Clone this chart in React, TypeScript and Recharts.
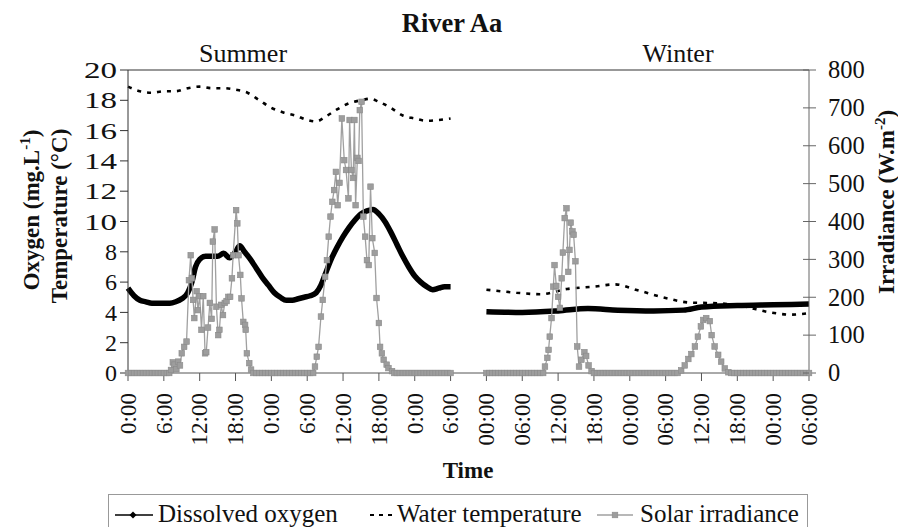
import React from 'react';
import { ComposedChart, Line, XAxis, YAxis, ReferenceLine } from 'recharts';

// [hour since start of season, value]
const summerOxygen: [number, number][] = [
  [0, 5.6], [1, 5.1], [2, 4.8], [3, 4.7], [4, 4.6], [5, 4.6], [6, 4.6], [7, 4.6], [8, 4.7],
  [9, 4.9], [10, 5.3], [10.7, 6.0], [11.3, 7.0], [12, 7.5], [13, 7.7], [14, 7.7], [15, 7.7],
  [16, 7.9], [17, 7.6], [18, 8.0], [18.7, 8.4], [19.5, 8.0], [20.5, 7.5], [21.5, 6.9],
  [22.5, 6.3], [23.5, 5.8], [24.5, 5.3], [25.5, 5.0], [26.5, 4.8], [27.5, 4.8], [28.5, 4.9],
  [29.5, 5.0], [30.5, 5.1], [31.5, 5.3], [32.3, 5.8], [33, 6.5], [34, 7.5], [35, 8.3], [36, 9.0],
  [37, 9.6], [38, 10.1], [39, 10.5], [40, 10.7], [41, 10.8], [42, 10.5], [43, 10.0], [44, 9.3],
  [45, 8.5], [46, 7.7], [47, 7.0], [48, 6.4], [49, 6.0], [50, 5.7], [51, 5.5], [52, 5.6],
  [53, 5.7], [54, 5.7],
];

const winterOxygen: [number, number][] = [
  [0, 4.05], [6, 4.0], [12, 4.1], [17, 4.25], [22, 4.15], [28, 4.1], [33, 4.15], [36, 4.35],
  [42, 4.45], [48, 4.5], [54, 4.55],
];

const summerTemperature: [number, number][] = [
  [0, 18.9], [2, 18.6], [4, 18.5], [6, 18.6], [8, 18.6], [10, 18.8], [12, 18.9], [14, 18.8],
  [16, 18.8], [18, 18.7], [20, 18.5], [22, 18.0], [24, 17.5], [26, 17.2], [28, 17.0], [30, 16.7],
  [31.5, 16.6], [33, 16.9], [35, 17.4], [37, 17.8], [39, 18.0], [40.5, 18.1], [42, 17.9],
  [44, 17.5], [46, 17.0], [48, 16.8], [50, 16.65], [52, 16.7], [54, 16.8],
];

const winterTemperature: [number, number][] = [
  [0, 5.5], [5, 5.3], [9, 5.2], [13.5, 5.55], [18, 5.7], [21.5, 5.85], [25, 5.5], [30, 4.95],
  [34, 4.65], [39, 4.6], [43, 4.4], [47.5, 4.0], [51, 3.85], [54, 3.95],
];

// W.m-2
const summerIrradiance: [number, number][] = [
  [0, 0], [0.5, 0], [1, 0], [1.5, 0], [2, 0], [2.5, 0], [3, 0], [3.5, 0], [4, 0], [4.5, 0],
  [5, 0], [5.5, 0], [6, 0], [6.5, 0],
  [6.9, 0], [7.2, 8], [7.5, 28], [7.8, 22], [8.1, 10], [8.4, 30], [8.7, 20], [9.0, 52],
  [9.4, 69], [9.8, 83], [10.2, 245], [10.5, 311], [10.7, 250], [10.9, 193], [11.1, 145],
  [11.5, 216], [11.7, 166], [12.0, 203], [12.3, 114], [12.6, 203], [12.9, 52], [13.1, 55],
  [13.4, 120], [13.7, 185], [14.0, 143], [14.2, 347], [14.5, 379], [14.8, 175], [15.1, 100],
  [15.3, 114], [15.6, 180], [15.9, 153], [16.2, 185], [16.5, 190], [16.8, 201], [17.1, 201],
  [17.4, 250], [17.6, 311], [18.1, 430], [18.3, 395], [18.5, 311], [18.8, 259], [19.0, 197],
  [19.3, 135], [19.6, 127], [19.7, 114], [19.9, 52], [20.3, 26], [20.6, 9], [21.0, 0],
  [21.5, 0], [22, 0], [22.5, 0], [23, 0], [23.5, 0], [24, 0], [24.5, 0], [25, 0], [25.5, 0],
  [26, 0], [26.5, 0], [27, 0], [27.5, 0], [28, 0], [28.5, 0], [29, 0], [29.5, 0], [30, 0],
  [30.5, 0],
  [31.0, 0], [31.3, 17], [31.6, 43], [31.9, 69], [32.3, 149], [32.6, 193], [33.0, 254],
  [33.3, 298], [33.6, 360], [33.9, 413], [34.2, 452], [34.5, 483], [34.8, 531], [35.1, 443],
  [35.4, 502], [35.8, 672], [36.2, 562], [36.5, 536], [36.9, 461], [37.1, 668], [37.4, 536],
  [37.7, 515], [37.9, 668], [38.1, 443], [38.4, 568], [38.6, 560], [38.8, 694], [39.1, 716],
  [39.4, 413], [39.7, 360], [40.0, 298], [40.3, 285], [40.6, 492], [40.9, 356], [41.3, 317],
  [41.6, 198], [42.0, 132], [42.2, 69], [42.5, 52], [42.8, 35], [43.3, 22], [43.6, 13],
  [44.2, 5], [44.6, 0],
  [45, 0], [45.5, 0], [46, 0], [46.5, 0], [47, 0], [47.5, 0], [48, 0], [48.5, 0], [49, 0],
  [49.5, 0], [50, 0], [50.5, 0], [51, 0], [51.5, 0], [52, 0], [52.5, 0], [53, 0], [53.5, 0],
  [54, 0],
];

const winterIrradiance: [number, number][] = [
  [0, 0], [0.5, 0], [1, 0], [1.5, 0], [2, 0], [2.5, 0], [3, 0], [3.5, 0], [4, 0], [4.5, 0],
  [5, 0], [5.5, 0], [6, 0], [6.5, 0], [7, 0], [7.5, 0], [8, 0], [8.5, 0], [9, 0], [9.5, 0],
  [9.8, 17], [10.2, 40], [10.4, 61], [10.6, 96], [10.9, 145], [11.2, 228], [11.4, 285],
  [11.7, 230], [12.0, 201], [12.3, 172], [12.6, 250], [12.8, 318], [13.1, 409], [13.4, 435],
  [13.7, 267], [13.9, 325], [14.1, 397], [14.4, 374], [14.6, 365], [14.9, 295], [15.2, 70],
  [15.5, 17], [15.9, 35], [16.4, 55], [16.7, 45], [17.1, 20], [17.6, 5], [18.0, 0],
  [18.5, 0], [19, 0], [19.5, 0], [20, 0], [20.5, 0], [21, 0], [21.5, 0], [22, 0], [22.5, 0],
  [23, 0], [23.5, 0], [24, 0], [24.5, 0], [25, 0], [25.5, 0], [26, 0], [26.5, 0], [27, 0],
  [27.5, 0], [28, 0], [28.5, 0], [29, 0], [29.5, 0], [30, 0], [30.5, 0], [31, 0], [31.5, 0],
  [32, 0],
  [32.6, 7], [33.2, 20], [33.8, 37], [34.3, 50], [34.9, 70], [35.4, 96], [35.9, 123],
  [36.3, 140], [36.8, 145], [37.4, 137], [37.7, 100], [38.2, 70], [38.8, 48], [39.3, 30],
  [39.9, 12], [40.5, 2], [41, 0],
  [41.5, 0], [42, 0], [42.5, 0], [43, 0], [43.5, 0], [44, 0], [44.5, 0], [45, 0], [45.5, 0],
  [46, 0], [46.5, 0], [47, 0], [47.5, 0], [48, 0], [48.5, 0], [49, 0], [49.5, 0], [50, 0],
  [50.5, 0], [51, 0], [51.5, 0], [52, 0], [52.5, 0], [53, 0], [53.5, 0], [54, 0],
];

const summerTickLabels = ['0:00', '6:00', '12:00', '18:00', '0:00', '6:00', '12:00', '18:00', '0:00', '6:00'];
const winterTickLabels = ['00:00', '06:00', '12:00', '18:00', '00:00', '06:00', '12:00', '18:00', '00:00', '06:00'];
const oxygenTicks = [0, 2, 4, 6, 8, 10, 12, 14, 16, 18, 20];
const irradianceTicks = [0, 100, 200, 300, 400, 500, 600, 700, 800];

const TICK_STEP = 6; // hours between ticks
const WINTER_OFFSET = summerTickLabels.length * TICK_STEP;
const timeLabels = [...summerTickLabels, ...winterTickLabels];
const timeTicks = timeLabels.map((_, i) => i * TICK_STEP);

const SERIF = "'Liberation Serif', 'DejaVu Serif', serif";
const serif = { fontFamily: SERIF };

const toRows = (pairs: [number, number][], offset = 0) =>
  pairs.map(([h, v]) => ({ h: h + offset, v }));

const TimeTick = (props: any) => {
  const { x, y, payload } = props;
  const label = timeLabels[Math.round(payload.value / TICK_STEP)];
  return (
    <text
      x={x}
      y={y}
      transform={`rotate(-90 ${x} ${y})`}
      textAnchor='end'
      dy='0.34em'
      fontSize={23}
      style={serif}
      fill='#111'
    >
      {label}
    </text>
  );
};

// the source draws the two-digit left labels noticeably wider
const LeftTick = (props: any) => {
  const { x, y, payload } = props;
  const label = String(payload.value);
  const wide = label.length > 1;
  return (
    <text
      x={x}
      y={y}
      dy='0.34em'
      textAnchor='end'
      fontSize={24}
      style={serif}
      fill='#111'
      textLength={wide ? 33 : undefined}
      lengthAdjust={wide ? 'spacingAndGlyphs' : undefined}
    >
      {label}
    </text>
  );
};

const RightTick = (props: any) => {
  const { x, y, payload } = props;
  const axisX = x - 19;
  return (
    <g>
      <line x1={axisX - 6} x2={axisX} y1={y} y2={y} stroke='#666' strokeWidth={1} />
      <text x={x} y={y} dy='0.34em' textAnchor='start' fontSize={24.5} style={serif} fill='#111'>
        {payload.value}
      </text>
    </g>
  );
};

const SquareDot = (p: any) => {
  if (p.cx == null || p.cy == null) return <g key={`sq-${p.index}`} />;
  return (
    <rect
      key={`sq-${p.index}`}
      x={p.cx - 2.8}
      y={p.cy - 2.8}
      width={5.6}
      height={5.6}
      fill='#9d9d9d'
      stroke='#8a8a8a'
      strokeWidth={0.6}
    />
  );
};

export default function App() {
  const series = [
    { key: 'do-s', rows: toRows(summerOxygen), kind: 'oxygen' },
    { key: 'do-w', rows: toRows(winterOxygen, WINTER_OFFSET), kind: 'oxygen' },
    { key: 't-s', rows: toRows(summerTemperature), kind: 'temp' },
    { key: 't-w', rows: toRows(winterTemperature, WINTER_OFFSET), kind: 'temp' },
    { key: 'i-s', rows: toRows(summerIrradiance), kind: 'irr' },
    { key: 'i-w', rows: toRows(winterIrradiance, WINTER_OFFSET), kind: 'irr' },
  ];

  return (
    <div
      style={{
        position: 'absolute',
        left: 0,
        top: 0,
        width: 898,
        height: 527,
        background: '#fff',
        fontFamily: SERIF,
        overflow: 'hidden',
      }}
    >
      <ComposedChart
        width={898}
        height={527}
        margin={{ top: 70, right: 29, bottom: 74, left: 68 }}
        style={serif}
      >
        <XAxis
          dataKey='h'
          type='number'
          domain={[0, timeTicks[timeTicks.length - 1]]}
          ticks={timeTicks}
          interval={0}
          height={80}
          tick={<TimeTick />}
          tickSize={8}
          tickMargin={12}
          stroke='#555'
          allowDuplicatedCategory={false}
        />
        <YAxis
          yAxisId='left'
          domain={[0, 20]}
          ticks={oxygenTicks}
          interval={0}
          width={60}
          tickSize={8}
          tickMargin={3}
          stroke='#333'
          tick={<LeftTick />}
        />
        <YAxis
          yAxisId='right'
          orientation='right'
          domain={[0, 800]}
          ticks={irradianceTicks}
          interval={0}
          width={60}
          tickSize={7}
          tickMargin={12}
          stroke='#666'
          tick={<RightTick />}
        />
        <ReferenceLine yAxisId='left' y={20} stroke='#333' strokeWidth={1.2} />
        {series
          .filter((s) => s.kind === 'oxygen')
          .map((s) => (
            <Line
              key={s.key}
              yAxisId='left'
              data={s.rows}
              dataKey='v'
              type='monotone'
              stroke='#000'
              strokeWidth={5.5}
              dot={false}
              isAnimationActive={false}
            />
          ))}
        {series
          .filter((s) => s.kind === 'temp')
          .map((s) => (
            <Line
              key={s.key}
              yAxisId='left'
              data={s.rows}
              dataKey='v'
              type='monotone'
              stroke='#000'
              strokeWidth={2.6}
              strokeDasharray='4 6'
              dot={false}
              isAnimationActive={false}
            />
          ))}
        {series
          .filter((s) => s.kind === 'irr')
          .map((s) => (
            <Line
              key={s.key}
              yAxisId='right'
              data={s.rows}
              dataKey='v'
              type='linear'
              stroke='#a0a0a0'
              strokeWidth={1.3}
              dot={SquareDot}
              isAnimationActive={false}
            />
          ))}
      </ComposedChart>

      <svg
        width={898}
        height={527}
        style={{ position: 'absolute', left: 0, top: 0, pointerEvents: 'none', fontFamily: SERIF }}
        fill='#111'
      >
        <text x={452} y={32} textAnchor='middle' fontSize={26.5} fontWeight='bold'>
          River Aa
        </text>
        <text x={243} y={62} textAnchor='middle' fontSize={26}>
          Summer
        </text>
        <text x={678} y={62} textAnchor='middle' fontSize={26}>
          Winter
        </text>

        <text transform='rotate(-90)' x={-210} y={39} textAnchor='middle' fontSize={23} fontWeight='bold'>
          Oxygen (mg.L<tspan dy={-9} fontSize={15}>-1</tspan>
          <tspan dy={9}>)</tspan>
        </text>
        <text transform='rotate(-90)' x={-216} y={67} textAnchor='middle' fontSize={23} fontWeight='bold'>
          Temperature (°C)
        </text>
        <text transform='rotate(-90)' x={-202} y={894} textAnchor='middle' fontSize={23} fontWeight='bold'>
          Irradiance (W.m<tspan dy={-9} fontSize={15}>-2</tspan>
          <tspan dy={9}>)</tspan>
        </text>

        <text x={468} y={478} textAnchor='middle' fontSize={23} fontWeight='bold'>
          Time
        </text>

        <rect x={108.5} y={494.5} width={699} height={40} fill='none' stroke='#999' strokeWidth={1} />
        <line x1={115} x2={153} y1={515} y2={515} stroke='#000' strokeWidth={1.3} />
        <path d='M133 511.5 L136.5 515 L133 518.5 L129.5 515 Z' fill='#000' />
        <text x={158} y={522} fontSize={25}>
          Dissolved oxygen
        </text>
        <line x1={370} x2={393} y1={515} y2={515} stroke='#000' strokeWidth={2} strokeDasharray='4 5' />
        <text x={397} y={522} fontSize={25}>
          Water temperature
        </text>
        <line x1={597} x2={633} y1={515} y2={515} stroke='#a0a0a0' strokeWidth={1.3} />
        <rect x={612.2} y={512.2} width={5.6} height={5.6} fill='#9d9d9d' stroke='#8a8a8a' strokeWidth={0.6} />
        <text x={640} y={522} fontSize={25}>
          Solar irradiance
        </text>
      </svg>
    </div>
  );
}
